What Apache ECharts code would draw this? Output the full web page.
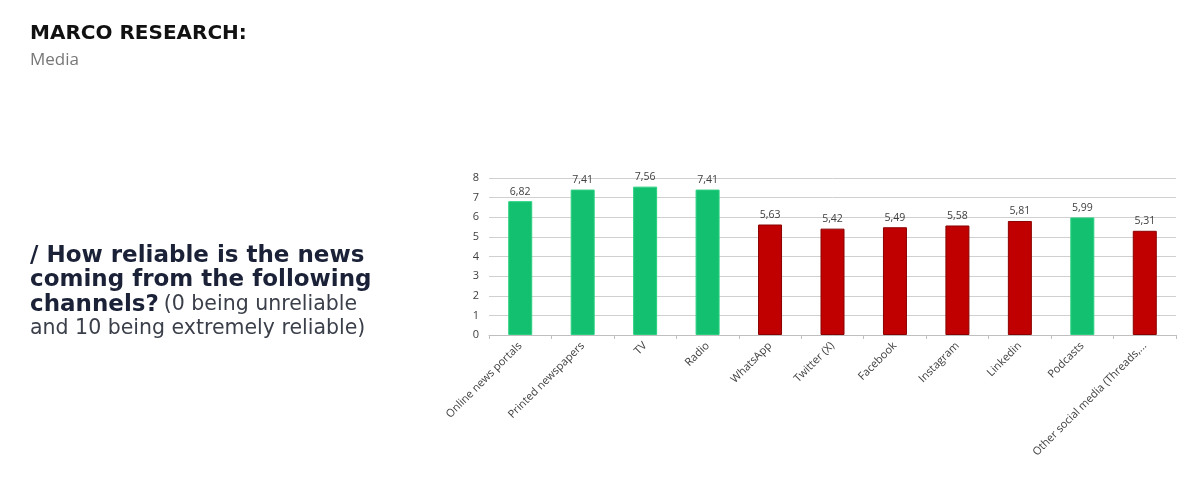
<!DOCTYPE html>
<html><head><meta charset="utf-8">
<script src="https://cdn.jsdelivr.net/npm/echarts@6/dist/echarts.min.js"></script>
<style>html,body{margin:0;padding:0;background:#fff}#c{width:1200px;height:495px}</style>
</head><body><div id="c"></div>
<script>
const categories = ["Online news portals","Printed newspapers","TV","Radio","WhatsApp","Twitter (X)","Facebook","Instagram","Linkedin","Podcasts","Other social media (Threads,..."];
const values = [6.82,7.41,7.56,7.41,5.63,5.42,5.49,5.58,5.81,5.99,5.31];
const colorGroup = ["g","g","g","g","r","r","r","r","r","g","r"];
const yTicks = [0,1,2,3,4,5,6,7,8];

const GREEN = "#13c06f", RED = "#c00000";
const chart = echarts.init(document.getElementById('c'));
chart.setOption({
  backgroundColor: '#fff',
  animation: false,
  title: [
    {text: 'MARCO RESEARCH:', left: 25, top: 19, textStyle: {fontFamily: 'DejaVu Sans', fontWeight: 'bold', fontSize: 20, color: '#111'}},
    {text: 'Media', left: 25, top: 47, textStyle: {fontFamily: 'Open Sans', fontWeight: 400, fontSize: 17, color: '#777'}},
    {text: '{b|/ How reliable is the news}\n{b|coming from the following}\n{b|channels?} {n|(0 being unreliable}\n{n|and 10 being extremely reliable)}',
     left: 25, top: 239,
     textStyle: {rich: {
       b: {fontFamily: 'DejaVu Sans', fontWeight: 'bold', fontSize: 23, color: '#1b2238', lineHeight: 24.3},
       n: {fontFamily: 'DejaVu Sans', fontWeight: 400, fontSize: 20.5, color: '#3a3f4a', lineHeight: 24.3}
     }}}
  ],
  grid: {left: 489, right: 24, top: 178, bottom: 160, containLabel: false},
  xAxis: {
    type: 'category', data: categories,
    axisLine: {lineStyle: {color: '#bfbfbf'}},
    axisTick: {show: true, lineStyle: {color: '#bfbfbf'}, length: 4},
    axisLabel: {rotate: 45, interval: 0, fontFamily: 'Open Sans', fontSize: 11, color: '#404040', margin: 9}
  },
  yAxis: {
    type: 'value', min: 0, max: 8, interval: 1,
    axisLine: {show: false}, axisTick: {show: false},
    splitLine: {lineStyle: {color: '#d0d0d0', width: 1}},
    axisLabel: {fontFamily: 'Open Sans', fontSize: 11, color: '#404040', margin: 10,
      formatter: v => yTicks.includes(v) ? String(v) : ''}
  },
  series: [{
    type: 'bar', barWidth: 24,
    data: values.map((v,i) => ({value: v, itemStyle: {color: colorGroup[i]==='g' ? GREEN : RED, borderColor: colorGroup[i]==='g' ? '#2ad080' : '#8a0000', borderWidth: 1}})),
    label: {show: true, position: 'top', distance: 4, fontFamily: 'Open Sans', fontSize: 10.5, color: '#404040',
      formatter: p => p.value.toFixed(2).replace('.', ',')}
  }]
});
</script></body></html>
